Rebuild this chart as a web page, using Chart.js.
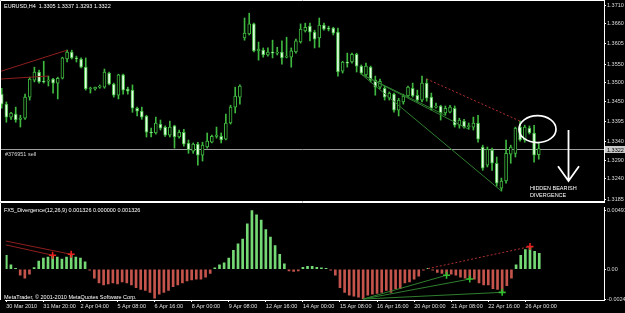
<!DOCTYPE html>
<html><head><meta charset="utf-8">
<script src="https://cdn.jsdelivr.net/npm/chart.js@4.4.0/dist/chart.umd.min.js"></script>
<style>
html,body{margin:0;padding:0;background:#000;width:625px;height:313px;overflow:hidden}
#wrapA{position:absolute;left:0;top:0;width:625px;height:202px}
#wrapB{position:absolute;left:0;top:202px;width:625px;height:111px}
canvas{display:block}
</style></head><body>
<div id="wrapA"><canvas id="cA" width="625" height="202"></canvas></div>
<div id="wrapB"><canvas id="cB" width="625" height="111"></canvas></div>
<script>
// ---------- DATA ----------
const symbol = 'EURUSD,H4';
const opens = [
1.3469,1.3442,1.3407,1.3415,1.3401,1.3404,1.3461,1.3507,1.3529,1.3504,
1.3504,1.3510,1.3499,1.3512,1.3564,1.3583,1.3567,1.3564,1.3542,1.3483,
1.3483,1.3488,1.3488,1.3526,1.3496,1.3466,1.3521,1.3483,1.3480,1.3431,
1.3423,1.3410,1.3366,1.3364,1.3388,1.3380,1.3358,1.3383,1.3353,1.3366,
1.3337,1.3315,1.3334,1.3304,1.3326,1.3339,1.3355,1.3355,1.3347,1.3391,
1.3434,1.3461,1.3621,1.3632,1.3659,1.3586,1.3588,1.3575,1.3583,1.3580,
1.3583,1.3569,1.3569,1.3583,1.3610,1.3640,1.3653,1.3637,1.3621,1.3656,
1.3648,1.3648,1.3637,1.3531,1.3556,1.3556,1.3577,1.3545,1.3521,1.3542,
1.3507,1.3488,1.3485,1.3458,1.3469,1.3426,1.3448,1.3464,1.3485,1.3466,
1.3453,1.3499,1.3461,1.3434,1.3437,1.3418,1.3420,1.3431,1.3385,1.3396,
1.3381,1.3380,1.3391,1.3326,1.3277,1.3318,1.3282,1.3215,1.3234,1.3307,
1.3309,1.3380,1.3345,1.3377,1.3364,1.3305];
const highs = [
1.3485,1.3448,1.3420,1.3434,1.3412,1.3469,1.3515,1.3542,1.3534,1.3558,
1.3518,1.3512,1.3515,1.3569,1.3588,1.3588,1.3572,1.3567,1.3567,1.3488,
1.3488,1.3494,1.3537,1.3529,1.3499,1.3523,1.3523,1.3488,1.3494,1.3434,
1.3434,1.3412,1.3377,1.3407,1.3399,1.3383,1.3396,1.3385,1.3372,1.3374,
1.3345,1.3337,1.3339,1.3339,1.3364,1.3358,1.3380,1.3364,1.3415,1.3439,
1.3488,1.3494,1.3675,1.3688,1.3661,1.3610,1.3594,1.3594,1.3615,1.3596,
1.3613,1.3623,1.3594,1.3618,1.3659,1.3661,1.3661,1.3642,1.3675,1.3661,
1.3653,1.3650,1.3648,1.3558,1.3580,1.3580,1.3580,1.3548,1.3553,1.3545,
1.3518,1.3510,1.3491,1.3475,1.3472,1.3458,1.3469,1.3491,1.3499,1.3480,
1.3518,1.3510,1.3472,1.3445,1.3439,1.3437,1.3439,1.3437,1.3404,1.3401,
1.3391,1.3407,1.3412,1.3331,1.3326,1.3323,1.3299,1.3242,1.3345,1.3331,
1.3380,1.3396,1.3385,1.3383,1.3385,1.3337];
const lows = [
1.3431,1.3393,1.3401,1.3393,1.3380,1.3401,1.3453,1.3502,1.3499,1.3499,
1.3491,1.3472,1.3456,1.3510,1.3556,1.3564,1.3556,1.3540,1.3480,1.3472,
1.3480,1.3485,1.3485,1.3494,1.3461,1.3456,1.3469,1.3469,1.3420,1.3410,
1.3401,1.3353,1.3353,1.3361,1.3372,1.3355,1.3353,1.3323,1.3350,1.3328,
1.3309,1.3309,1.3277,1.3288,1.3323,1.3337,1.3350,1.3337,1.3345,1.3388,
1.3418,1.3442,1.3615,1.3629,1.3583,1.3561,1.3569,1.3572,1.3567,1.3575,
1.3550,1.3567,1.3542,1.3580,1.3607,1.3637,1.3613,1.3594,1.3596,1.3642,
1.3640,1.3629,1.3518,1.3526,1.3542,1.3553,1.3529,1.3523,1.3515,1.3502,
1.3466,1.3483,1.3453,1.3453,1.3420,1.3410,1.3442,1.3461,1.3461,1.3448,
1.3448,1.3450,1.3426,1.3431,1.3399,1.3412,1.3418,1.3380,1.3377,1.3377,
1.3374,1.3372,1.3339,1.3263,1.3272,1.3263,1.3220,1.3207,1.3228,1.3282,
1.3299,1.3342,1.3339,1.3361,1.3285,1.3293];
const closes = [
1.3442,1.3407,1.3418,1.3399,1.3404,1.3461,1.3510,1.3529,1.3502,1.3502,
1.3507,1.3499,1.3512,1.3567,1.3583,1.3567,1.3564,1.3542,1.3483,1.3485,
1.3488,1.3491,1.3529,1.3496,1.3466,1.3521,1.3480,1.3477,1.3431,1.3423,
1.3407,1.3366,1.3364,1.3391,1.3377,1.3358,1.3380,1.3353,1.3366,1.3334,
1.3318,1.3334,1.3304,1.3331,1.3342,1.3355,1.3358,1.3345,1.3391,1.3434,
1.3464,1.3491,1.3634,1.3659,1.3586,1.3591,1.3575,1.3583,1.3580,1.3583,
1.3567,1.3572,1.3586,1.3613,1.3645,1.3650,1.3637,1.3618,1.3656,1.3645,
1.3645,1.3634,1.3529,1.3556,1.3553,1.3577,1.3545,1.3526,1.3545,1.3507,
1.3488,1.3504,1.3461,1.3472,1.3426,1.3453,1.3464,1.3488,1.3464,1.3453,
1.3499,1.3458,1.3431,1.3437,1.3418,1.3431,1.3434,1.3385,1.3399,1.3380,
1.3383,1.3391,1.3347,1.3269,1.3320,1.3282,1.3228,1.3234,1.3309,1.3326,
1.3377,1.3345,1.3380,1.3364,1.3304,1.3322];
const divergence = [
0.00117,0.00037,0.00005,-0.00050,-0.00074,-0.00042,0.00014,0.00069,0.00093,0.00101,
0.00117,0.00101,0.00085,0.00101,0.00125,0.00101,0.00093,0.00061,-0.00005,-0.00074,
-0.00114,-0.00130,-0.00122,-0.00114,-0.00122,-0.00106,-0.00114,-0.00130,-0.00154,-0.00169,
-0.00177,-0.00193,-0.00241,-0.00209,-0.00193,-0.00177,-0.00146,-0.00130,-0.00114,-0.00098,
-0.00090,-0.00082,-0.00082,-0.00066,-0.00034,0.00012,0.00037,0.00053,0.00093,0.00157,
0.00212,0.00252,0.00380,0.00491,0.00455,0.00411,0.00332,0.00268,0.00197,0.00125,
0.00045,-0.00015,-0.00018,-0.00015,0.00015,0.00025,0.00025,0.00015,0.00012,0.00008,
-0.00005,-0.00050,-0.00154,-0.00193,-0.00217,-0.00225,-0.00233,-0.00249,-0.00217,-0.00209,
-0.00201,-0.00193,-0.00177,-0.00193,-0.00162,-0.00162,-0.00114,-0.00106,-0.00082,-0.00058,
-0.00008,0.00005,-0.00005,-0.00026,-0.00034,-0.00050,-0.00042,-0.00050,-0.00066,-0.00074,
-0.00082,-0.00082,-0.00114,-0.00130,-0.00130,-0.00162,-0.00169,-0.00193,-0.00138,-0.00074,
0.00037,0.00117,0.00165,0.00189,0.00149,0.001326];
const signalLast = 0.000000;
const priceTicks = [1.3710,1.3660,1.3605,1.3550,1.3500,1.3450,1.3395,1.3340,1.3290,1.3240,1.3185];
const bidPrice = 1.3322;
const orderLabel = '#376951 sell';
const divTicks = [0.00491, 0.00, -0.00249];
const divTickLabels = ['0.00491','0.00','-0.00249'];
const timeLabelBars = [0,8,16,24,32,40,48,56,64,72,80,88,96,104,112];
const timeLabels = ['30 Mar 2010','31 Mar 20:00','2 Apr 04:00','5 Apr 08:00','6 Apr 16:00','8 Apr 00:00','9 Apr 08:00','12 Apr 16:00','14 Apr 00:00','15 Apr 08:00','16 Apr 16:00','20 Apr 00:00','21 Apr 08:00','22 Apr 16:00','26 Apr 00:00'];
// divergence trend lines [barIndex, value]
const priceRedA = [[-0.15,1.3531],[14,1.3588]];
const priceRedB = [[-0.15,1.3510],[10,1.3518]];
const priceRedDotted = [[91,1.3510],[111,1.3396]];
const priceGreen1 = [[77,1.3523],[95,1.3412]];
const priceGreen2 = [[77,1.3523],[100,1.3374]];
const priceGreen3 = [[77,1.3523],[107,1.3207]];
const divRedA = [[-0.15,0.00236],[14,0.00125]];
const divRedB = [[-0.15,0.00204],[10,0.00117]];
const divRedDotted = [[91,0.00005],[113,0.00189]];
const divGreen1 = [[77,-0.00249],[95,-0.00050]];
const divGreen2 = [[77,-0.00249],[100,-0.00082]];
const divGreen3 = [[77,-0.00249],[107,-0.00193]];
const divRedMarks = [[10,0.00117],[14,0.00125],[113,0.00189]];
const divGreenMarks = [[95,-0.00050],[100,-0.00082],[107,-0.00193]];

// ---------- STYLE ----------
const FONT = "'Liberation Sans', Arial, sans-serif";
const FS = 5.5;
const CANDLE = '#3fb83f';
const BEAR_FILL = '#e4ffe4';
const HIST_UP = '#74d874';
const HIST_DN = '#c4544c';
const X_MIN = -0.15, X_MAX = 128.97;
Chart.defaults.font.family = FONT;
Chart.defaults.font.size = FS;

const pts = arr => arr.map(p => ({x:p[0], y:p[1]}));
const lineDs = (arr, color, dash, w) => ({type:'line', data:pts(arr), borderColor:color, borderWidth:w||1,
  borderDash:dash||[], pointRadius:0, fill:false, order:1, tension:0});
const zeroPad = s => { s.paddingLeft = 0; s.paddingRight = 0; s.paddingTop = 0; s.paddingBottom = 0; };

// ---------- PRICE CHART ----------
const priceDecor = {
  id:'priceDecor',
  beforeDatasetsDraw(chart){
    const {ctx, chartArea:a, scales:{y}} = chart;
    const by = Math.round(y.getPixelForValue(bidPrice)) + 0.5;
    ctx.save();
    ctx.strokeStyle = '#a0a0a0'; ctx.lineWidth = 1;
    ctx.beginPath(); ctx.moveTo(a.left, by); ctx.lineTo(a.right, by); ctx.stroke();
    ctx.restore();
  },
  afterDraw(chart){
    const {ctx, chartArea:a, scales:{x,y}} = chart;
    ctx.save();
    ctx.strokeStyle = '#ffffff'; ctx.lineWidth = 1;
    ctx.beginPath();
    ctx.moveTo(0.5, a.bottom + 0.5); ctx.lineTo(0.5, 0.5); ctx.lineTo(a.right + 1, 0.5);
    ctx.moveTo(0, a.bottom + 0.5); ctx.lineTo(a.right + 1, a.bottom + 0.5);
    ctx.stroke();
    ctx.font = FS + 'px ' + FONT; ctx.textBaseline = 'middle'; ctx.textAlign = 'left';
    const n = closes.length - 1;
    ctx.fillStyle = '#ffffff';
    ctx.fillText(symbol + '  ' + opens[n].toFixed(4) + ' ' + highs[n].toFixed(4) + ' ' + lows[n].toFixed(4) + ' ' + closes[n].toFixed(4), 4, 6);
    const by = Math.round(y.getPixelForValue(bidPrice)) + 0.5;
    ctx.fillStyle = '#d8d8d8';
    ctx.fillText(orderLabel, 5, by + 4.5);
    // bid price box on axis
    ctx.fillStyle = '#c8c8c8';
    ctx.fillRect(a.right + 1, by - 3.5, 20, 7);
    ctx.fillStyle = '#000000';
    ctx.fillText(bidPrice.toFixed(4), a.right + 3, by + 0.5);
    // annotation: ellipse
    ctx.strokeStyle = '#ffffff'; ctx.lineWidth = 1.7;
    ctx.beginPath();
    ctx.ellipse(x.getPixelForValue(114.73), y.getPixelForValue(1.33744), 18.5, 13.5, 0, 0, Math.PI * 2);
    ctx.stroke();
    // annotation: arrow
    const ax = x.getPixelForValue(121.37);
    const aTop = y.getPixelForValue(1.3372), aBot = y.getPixelForValue(1.3234), aWing = y.getPixelForValue(1.3274);
    ctx.lineWidth = 1.8;
    ctx.beginPath();
    ctx.moveTo(ax, aTop); ctx.lineTo(ax, aBot);
    ctx.moveTo(ax - 10.5, aWing); ctx.lineTo(ax, aBot); ctx.lineTo(ax + 10.5, aWing);
    ctx.stroke();
    ctx.fillStyle = '#ffffff';
    const tx = x.getPixelForValue(113.1);
    ctx.fillText('HIDDEN BEARISH', tx, y.getPixelForValue(1.32134));
    ctx.fillText('DIVERGENCE', tx, y.getPixelForValue(1.31945));
    ctx.restore();
  }
};

new Chart(document.getElementById('cA'), {
  type:'bar',
  data:{datasets:[
    lineDs(priceRedA, '#8e1e1e'),
    lineDs(priceRedB, '#8e1e1e'),
    lineDs(priceRedDotted, '#b03030', [2,2]),
    lineDs(priceGreen1, '#2f7f2f'),
    lineDs(priceGreen2, '#2f7f2f'),
    lineDs(priceGreen3, '#2f7f2f'),
    {type:'bar', data:opens.map((o,i)=>({x:i, y:[o, closes[i]]})), barThickness:3, minBarLength:1,
     grouped:false, borderSkipped:false, borderWidth:1, borderColor:CANDLE,
     backgroundColor: c => { const i = c.dataIndex; return closes[i] >= opens[i] ? '#000000' : BEAR_FILL; }, order:4},
    {type:'bar', data:lows.map((l,i)=>({x:i, y:[l, highs[i]]})), barThickness:1, grouped:false,
     borderWidth:0, backgroundColor:CANDLE, order:5}
  ]},
  options:{
    responsive:false, animation:false, events:[],
    layout:{padding:{left:1, top:1, right:0, bottom:1}},
    plugins:{legend:{display:false}, tooltip:{enabled:false}},
    scales:{
      x:{type:'linear', min:X_MIN, max:X_MAX, offset:false, display:false, grid:{offset:false}},
      y:{type:'linear', position:'right', min:1.3180, max:1.3721,
         afterBuildTicks: s => { s.ticks = priceTicks.map(v => ({value:v})); },
         afterFit: s => { s.width = 21; zeroPad(s); },
         ticks:{autoSkip:false, color:'#dcdcdc', padding:1, font:{size:FS}, callback: v => Number(v).toFixed(4)},
         grid:{drawOnChartArea:false, drawTicks:true, tickLength:2, color:'#ffffff'},
         border:{display:true, color:'#ffffff'}}
    }
  },
  plugins:[priceDecor]
});

// ---------- DIVERGENCE CHART ----------
const divDecor = {
  id:'divDecor',
  afterDraw(chart){
    const {ctx, chartArea:a} = chart;
    ctx.save();
    ctx.strokeStyle = '#ffffff'; ctx.lineWidth = 1;
    ctx.beginPath();
    ctx.moveTo(0.5, a.bottom); ctx.lineTo(0.5, 0.5); ctx.lineTo(a.right + 1, 0.5);
    ctx.stroke();
    ctx.font = FS + 'px ' + FONT; ctx.textBaseline = 'middle'; ctx.textAlign = 'left';
    ctx.fillStyle = '#ffffff';
    const last = divergence[divergence.length - 1];
    ctx.fillText('FX5_Divergence(12,26,9) ' + last.toFixed(6) + ' ' + signalLast.toFixed(6) + ' ' + last.toFixed(6), 4, 8);
    ctx.fillText('MetaTrader, \u00A9 2001-2010 MetaQuotes Software Corp.', 4, a.bottom - 3);
    ctx.restore();
  }
};

new Chart(document.getElementById('cB'), {
  type:'bar',
  data:{datasets:[
    {type:'line', data:pts(divRedMarks), showLine:false, pointStyle:'cross', pointRadius:3.5,
     pointBorderColor:'#e82020', pointBorderWidth:1.6, order:0},
    {type:'line', data:pts(divGreenMarks), showLine:false, pointStyle:'cross', pointRadius:3.5,
     pointBorderColor:'#2fbf2f', pointBorderWidth:1.6, order:0},
    lineDs(divRedA, '#8e1e1e'),
    lineDs(divRedB, '#8e1e1e'),
    lineDs(divRedDotted, '#b03030', [2,2]),
    lineDs(divGreen1, '#2f7f2f'),
    lineDs(divGreen2, '#2f7f2f'),
    lineDs(divGreen3, '#2f7f2f'),
    {type:'bar', data:divergence.map((v,i)=>({x:i, y:v})), barThickness:2, minBarLength:1, grouped:false,
     backgroundColor: c => (divergence[c.dataIndex] >= 0 ? HIST_UP : HIST_DN), order:5}
  ]},
  options:{
    responsive:false, animation:false, events:[],
    layout:{padding:{left:1, top:1, right:0, bottom:1}},
    plugins:{legend:{display:false}, tooltip:{enabled:false}},
    scales:{
      x:{type:'linear', position:'bottom', min:X_MIN, max:X_MAX, offset:false,
         afterBuildTicks: s => { s.ticks = timeLabelBars.map(v => ({value:v})); },
         afterFit: s => { s.height = 12; zeroPad(s); },
         ticks:{autoSkip:false, maxRotation:0, minRotation:0, align:'start', color:'#e0e0e0', padding:1,
                font:{size:FS}, callback:(v,i) => timeLabels[i]},
         grid:{offset:false, drawOnChartArea:false, drawTicks:true, tickLength:2, color:'#ffffff'},
         border:{display:true, color:'#ffffff'}},
      y:{type:'linear', position:'right', min:-0.00257, max:0.00515,
         afterBuildTicks: s => { s.ticks = divTicks.map(v => ({value:v})); },
         afterFit: s => { s.width = 21; zeroPad(s); },
         ticks:{autoSkip:false, color:'#dcdcdc', padding:1, font:{size:FS}, callback:(v,i) => divTickLabels[i]},
         grid:{drawOnChartArea:false, drawTicks:true, tickLength:2, color:'#ffffff'},
         border:{display:true, color:'#ffffff'}}
    }
  },
  plugins:[divDecor]
});
</script>
</body></html>
